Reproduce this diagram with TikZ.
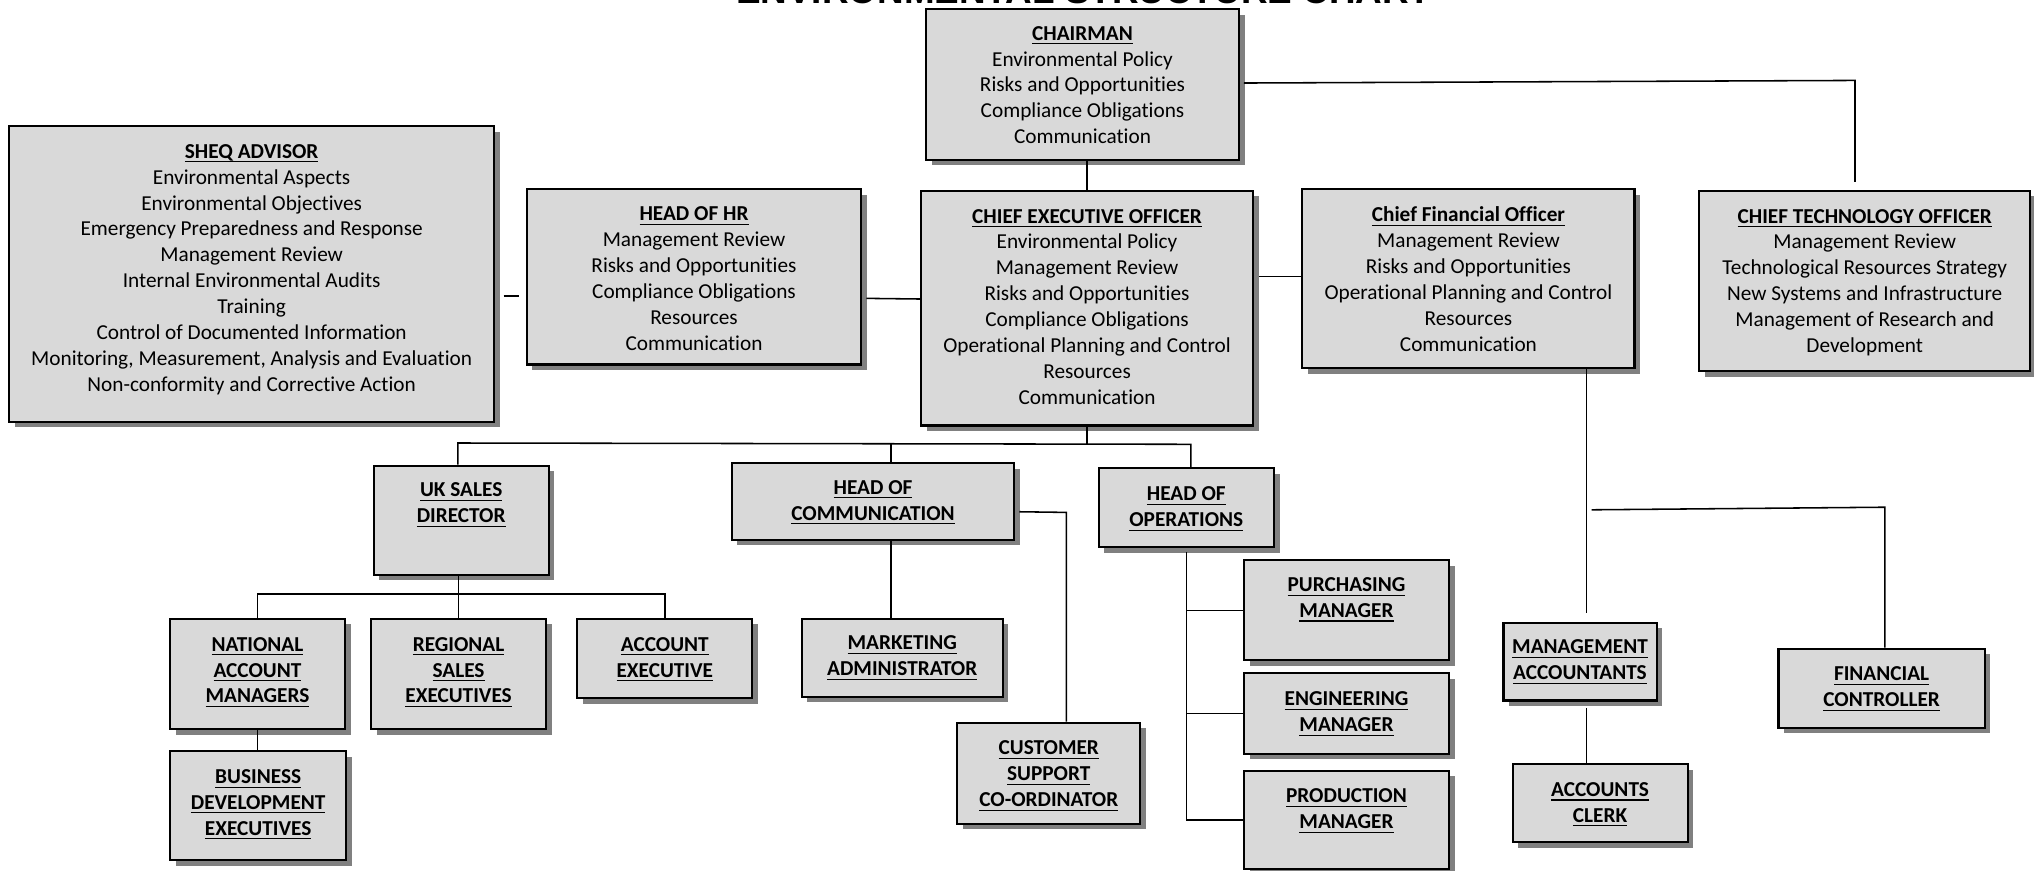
\documentclass[tikz,border=0pt]{standalone}
\usepackage{fontspec}
\setmainfont{Carlito}[Ligatures={NoCommon,NoContextual}]
\newfontfamily\titlefont{Liberation Sans}
\usetikzlibrary{shadows,calc}
\definecolor{boxgray}{HTML}{D9D9D9}
\definecolor{shadowgray}{HTML}{808080}
\tikzset{
  orgbox/.style={rectangle, draw=black, line width=0.8pt, fill=boxgray, inner sep=0pt,
    drop shadow={shadow xshift=2.2pt, shadow yshift=-2.2pt, fill=shadowgray, opacity=1}},
  orgtext/.style={inner sep=0pt, align=center, font=\fontsize{8.2}{10}\selectfont, anchor=north},
  conn/.style={draw=black, line width=0.6pt},
}
\newcommand{\ttl}[1]{\underline{\smash{\textbf{#1}}}}
\newcommand{\OrgBox}[7]{%
  \pgfmathsetmacro{\obw}{(#4-#2)*0.5}%
  \pgfmathsetmacro{\obh}{(#5-#3)*0.5}%
  \node[orgbox, minimum width=\obw pt, minimum height=\obh pt] (#1) at ({(#2+#4)/2},{(#3+#5)/2}) {};%
  \node[orgtext] (#1t) at ({(#2+#4)/2},{#6-12}) {\rule{0pt}{6pt}#7};%
}
\begin{document}
\begin{tikzpicture}[x=0.5pt,y=-0.5pt]
\useasboundingbox (0,0) rectangle (1568,671);
\node[font=\titlefont\bfseries\fontsize{14.2}{17}\selectfont, anchor=base, inner sep=0pt] (title) at (835.5,3) {ENVIRONMENTAL STRUCTURE CHART};

% top level
\OrgBox{chair}{714}{7}{955}{123}{30.5}{\ttl{CHAIRMAN}\\Environmental Policy\\Risks and Opportunities\\Compliance Obligations\\Communication}
\OrgBox{sheq}{7}{97}{381}{325}{121.5}{\ttl{SHEQ ADVISOR}\\Environmental Aspects\\Environmental Objectives\\Emergency Preparedness and Response\\Management Review\\Internal Environmental Audits\\Training\\Control of Documented Information\\Monitoring, Measurement, Analysis and Evaluation\\Non-conformity and Corrective Action}
\OrgBox{hr}{406}{146}{664}{281}{169.5}{\ttl{HEAD OF HR}\\Management Review\\Risks and Opportunities\\Compliance Obligations\\Resources\\Communication}
\OrgBox{ceo}{710}{147}{966}{328}{171.5}{\ttl{CHIEF EXECUTIVE OFFICER}\\Environmental Policy\\Management Review\\Risks and Opportunities\\Compliance Obligations\\Operational Planning and Control\\Resources\\Communication}
\OrgBox{cfo}{1004}{146}{1260}{284}{170.5}{\ttl{Chief Financial Officer}\\Management Review\\Risks and Opportunities\\Operational Planning and Control\\Resources\\Communication}
\OrgBox{cto}{1310}{147}{1565}{286}{171.5}{\ttl{CHIEF TECHNOLOGY OFFICER}\\Management Review\\Technological Resources Strategy\\New Systems and Infrastructure\\Management of Research and\\Development}

% second level
\OrgBox{uks}{288}{359}{423}{443}{382.5}{\ttl{UK SALES}\\\ttl{DIRECTOR}}
\OrgBox{hoc}{564}{357}{782}{416}{380.5}{\ttl{HEAD OF}\\\ttl{COMMUNICATION}}
\OrgBox{hoo}{847}{361}{982}{422}{385.5}{\ttl{HEAD OF}\\\ttl{OPERATIONS}}

% sales
\OrgBox{nam}{131}{477}{266}{562}{501.5}{\ttl{NATIONAL}\\\ttl{ACCOUNT}\\\ttl{MANAGERS}}
\OrgBox{rse}{286}{477}{421}{562}{501.5}{\ttl{REGIONAL}\\\ttl{SALES}\\\ttl{EXECUTIVES}}
\OrgBox{ae}{445}{477}{580}{538}{501.5}{\ttl{ACCOUNT}\\\ttl{EXECUTIVE}}
\OrgBox{bde}{131}{579}{267}{663}{603.5}{\ttl{BUSINESS}\\\ttl{DEVELOPMENT}\\\ttl{EXECUTIVES}}

% communication
\OrgBox{mkt}{618}{477}{773}{537}{500.5}{\ttl{MARKETING}\\\ttl{ADMINISTRATOR}}
\OrgBox{csc}{738}{557}{879}{635}{581.5}{\ttl{CUSTOMER}\\\ttl{SUPPORT}\\\ttl{CO-ORDINATOR}}

% operations
\OrgBox{pm}{959}{432}{1117}{509}{455.5}{\ttl{PURCHASING}\\\ttl{MANAGER}}
\OrgBox{em}{959}{519}{1117}{581}{543.5}{\ttl{ENGINEERING}\\\ttl{MANAGER}}
\OrgBox{prm}{959}{594}{1117}{670}{618.5}{\ttl{PRODUCTION}\\\ttl{MANAGER}}

% finance
\OrgBox{mac}{1159}{480}{1277}{540}{503.5}{\ttl{MANAGEMENT}\\\ttl{ACCOUNTANTS}}
\OrgBox{fc}{1371}{500}{1530}{561}{524.5}{\ttl{FINANCIAL}\\\ttl{CONTROLLER}}
\OrgBox{ac}{1166}{589}{1301}{649}{613.5}{\ttl{ACCOUNTS}\\\ttl{CLERK}}

% junction coordinates
\coordinate (ctoj) at (1430,62);
\coordinate (busL) at (353,341.5);
\coordinate (busC) at (687,342);
\coordinate (busR) at (918,342.5);
\coordinate (usM) at (353,458);
\coordinate (cscj) at (822,395);
\coordinate (cfoj) at (1223,393);
\coordinate (fcj) at (1453,391);

% connectors: top level
\draw[conn] (ceo.north |- chair.south) -- (ceo.north);
\draw[conn] ($(chair.east)+(3,-1)$) -- (ctoj) -- ($(ctoj |- cto.north)+(0,-6)$);
\draw[conn] ($(sheq.east)+(6.5,17)$) -- ($(hr.west)+(-5,14.5)$);
\draw[conn] ($(hr.east)+(3,16.5)$) -- ($(ceo.west)+(0,-7)$);
\draw[conn] ($(ceo.east |- cfo.west)+(4,-2)$) -- ($(cfo.west)+(0,-2)$);

% CEO bus
\draw[conn] (ceo.south) -- (ceo.south |- busC);
\draw[conn] (busL |- uks.north) -- (busL) -- (busR) -- (busR |- hoo.north);
\draw[conn] (busC) -- (busC |- hoc.north);

% sales
\draw[conn] (rse.north |- uks.south) -- (rse.north);
\draw[conn] (nam.north) -- (nam.north |- usM) -- (ae.north |- usM) -- (ae.north);
\draw[conn] (nam.south) -- (nam.south |- bde.north);

% communication
\draw[conn] (busC |- hoc.south) -- (busC |- mkt.north);
\draw[conn] ($(hoc.east)+(3,8)$) -- (cscj) -- (cscj |- csc.north);

% operations
\draw[conn] ($(hoo.south)+(0,3)$) -- (hoo.south |- prm.west) -- (prm.west);
\draw[conn] (hoo.south |- pm.west) -- (pm.west);
\draw[conn] (hoo.south |- em.west) -- (em.west);

% finance
\draw[conn] (cfoj |- cfo.south) -- ($(cfoj |- mac.north)+(0,-7)$);
\draw[conn] ($(cfoj)+(4,0)$) -- (fcj) -- (fcj |- fc.north);
\draw[conn] ($(cfoj |- mac.south)+(0,5)$) -- (cfoj |- ac.north);
\end{tikzpicture}
\end{document}
